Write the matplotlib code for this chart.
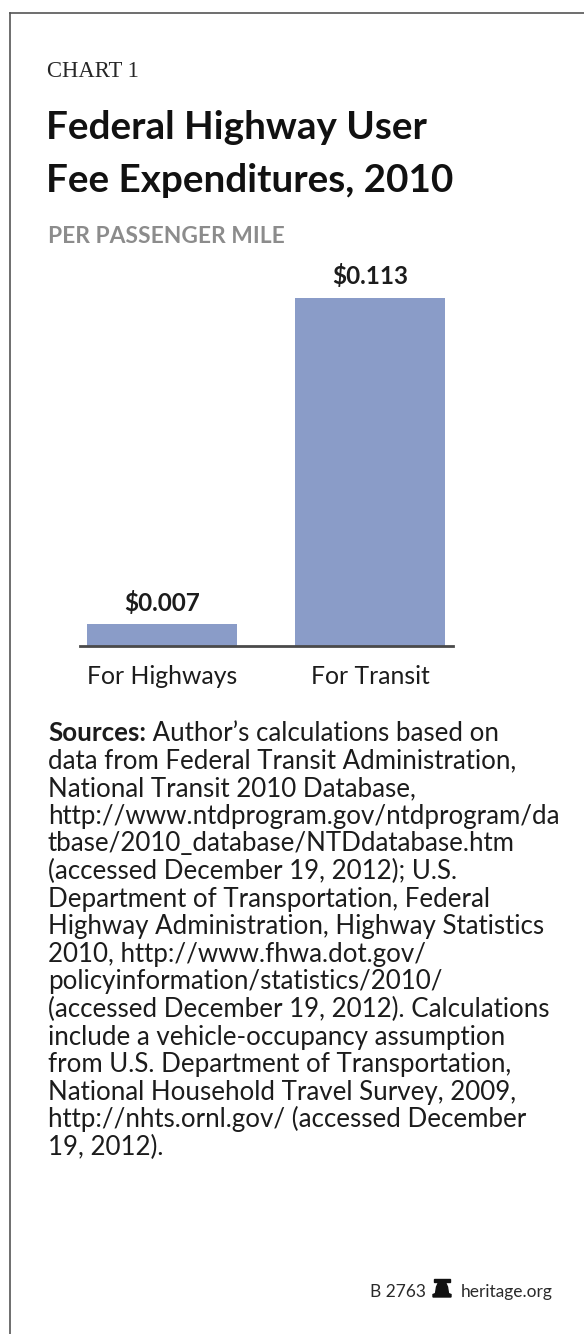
import matplotlib
matplotlib.use("Agg")
import matplotlib.pyplot as plt
from matplotlib.lines import Line2D
from matplotlib.patches import Polygon, Rectangle

categories = ["For Highways", "For Transit"]
values = [0.007, 0.113]
value_labels = ["$0.007", "$0.113"]

chart_tag = "CHART 1"
title_lines = ["Federal Highway User", "Fee Expenditures, 2010"]
subtitle = "PER PASSENGER MILE"
source_lead = "Sources:"
source_lines = [
  " Author\u2019s calculations based on",
  "data from Federal Transit Administration,",
  "National Transit 2010 Database,",
  "http://www.ntdprogram.gov/ntdprogram/da",
  "tbase/2010_database/NTDdatabase.htm",
  "(accessed December 19, 2012); U.S.",
  "Department of Transportation, Federal",
  "Highway Administration, Highway Statistics",
  "2010, http://www.fhwa.dot.gov/",
  "policyinformation/statistics/2010/",
  "(accessed December 19, 2012). Calculations",
  "include a vehicle-occupancy assumption",
  "from U.S. Department of Transportation,",
  "National Household Travel Survey, 2009,",
  "http://nhts.ornl.gov/ (accessed December",
  "19, 2012).",
]
footer_left = "B 2763"
footer_right = "heritage.org"

W, H = 584, 1334
BAR_COLOR = "#8a9cc8"
TEXT = "#1c1c1c"
FONT = "Lato"

fig = plt.figure(figsize=(W / 100, H / 100), dpi=100)
fig.patch.set_facecolor("white")

def fx(px):
  return px / W

def fy(py):
  return 1 - py / H

# frame: left and top rules
fig.add_artist(Line2D([fx(10), fx(10)], [fy(13), fy(H)], color="#555555", lw=1.2))
fig.add_artist(Line2D([fx(10), fx(W)], [fy(13), fy(13)], color="#555555", lw=1.2))

fig.text(fx(47), fy(77), chart_tag, family="Liberation Serif", fontsize=16.3,
         color="#262626", va="baseline")
fig.text(fx(46), fy(139), title_lines[0], family=FONT, weight="bold", fontsize=27.8,
         color="#111111", va="baseline")
fig.text(fx(46), fy(192), title_lines[1], family=FONT, weight="bold", fontsize=27.8,
         color="#111111", va="baseline")
fig.text(fx(48), fy(243), subtitle, family=FONT, weight="bold", fontsize=16.4,
         color="#8c8c8c", va="baseline")

# bar panel
base_y, top_y = 646, 260
ax = fig.add_axes([fx(80), fy(base_y), fx(453) - fx(80), fy(top_y) - fy(base_y)])
ymax = values[1] * (base_y - top_y) / (base_y - 298)
x = [0, 1]
ax.bar(x, values, width=0.72, color=BAR_COLOR, zorder=2)
ax.set_xlim(-0.394, 1.399)
ax.set_ylim(0, ymax)
for xi, v, lab in zip(x, values, value_labels):
  ax.annotate(lab, (xi, v), xytext=(0, 7), textcoords="offset points",
              ha="center", va="bottom", family=FONT, weight="bold",
              fontsize=17.5, color=TEXT)
ax.set_xticks(x)
ax.set_xticklabels(categories, family=FONT, fontsize=17.8, color=TEXT)
ax.tick_params(axis="x", length=0, pad=14)
ax.set_yticks([])
for s in ["top", "right", "left"]:
  ax.spines[s].set_visible(False)
ax.spines["bottom"].set_color("#4a4a4a")
ax.spines["bottom"].set_linewidth(2)
ax.spines["bottom"].set_zorder(3)
ax.patch.set_alpha(0)

# sources note
fig.canvas.draw()
renderer = fig.canvas.get_renderer()
src_size = 18.6
line_h = 27.6
y0 = 741
lead = fig.text(fx(48), fy(y0), source_lead, family=FONT, weight="bold",
                fontsize=src_size, color=TEXT, va="baseline")
bb = lead.get_window_extent(renderer)
fig.text(bb.x1 / W, fy(y0), source_lines[0], family=FONT, fontsize=src_size,
         color=TEXT, va="baseline")
for i, line in enumerate(source_lines[1:], start=1):
  fig.text(fx(48), fy(y0 + i * line_h), line, family=FONT, fontsize=src_size,
           color=TEXT, va="baseline")

# footer with bell mark
foot_y = 1297
fig.text(fx(553), fy(foot_y), footer_right, family=FONT, fontsize=12.5,
         color="#2a2a2a", va="baseline", ha="right")
fig.text(fx(426), fy(foot_y), footer_left, family=FONT, fontsize=12.5,
         color="#2a2a2a", va="baseline", ha="right")
bx, by = 442, foot_y
bell = [(-9, 0), (-9, -2.5), (-6.5, -3.5), (-5.5, -10), (-4, -13.5), (0, -14.5),
        (4, -13.5), (5.5, -10), (6.5, -3.5), (9, -2.5), (9, 0)]
fig.add_artist(Polygon([(fx(bx + dx), fy(by + dy)) for dx, dy in bell], closed=True,
                       color="#111111", transform=fig.transFigure))
fig.add_artist(Rectangle((fx(bx - 8), fy(by - 15.5)), fx(16), 2.5 / H,
                         color="#111111", transform=fig.transFigure))

fig.savefig("out.png", dpi=100, facecolor="white")
